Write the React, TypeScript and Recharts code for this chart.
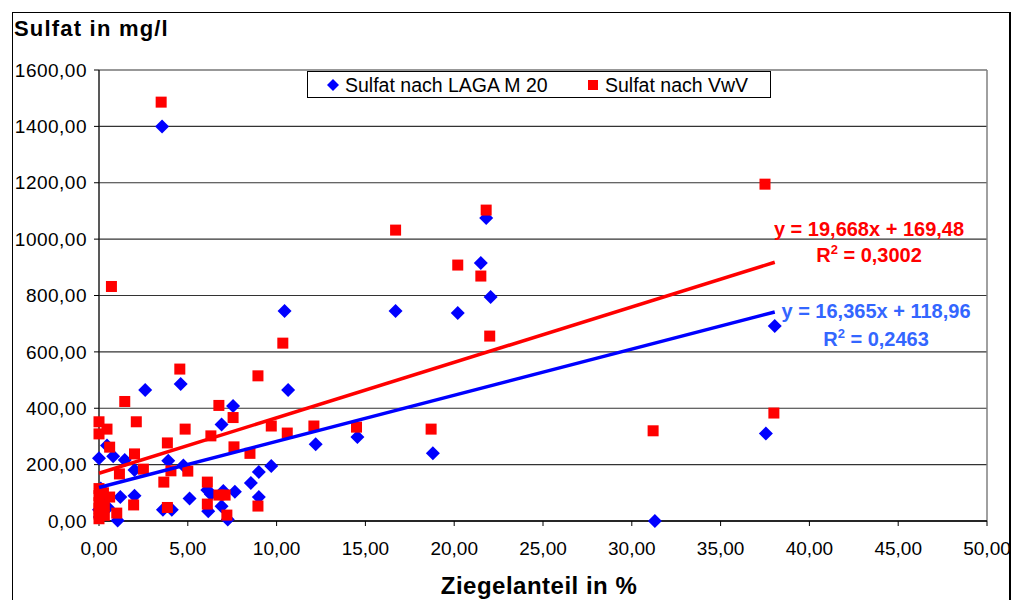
import React from 'react';
import {
  ScatterChart,
  Scatter,
  XAxis,
  YAxis,
  CartesianGrid,
  Legend,
  ReferenceLine,
  Customized,
} from 'recharts';

// Sulfat nach LAGA M 20: [Ziegelanteil %, Sulfat mg/l]
const lagaPoints: [number, number][] = [
  [3.55, 1400], [21.8, 1075], [21.5, 915], [22.05, 795], [16.7, 745], [20.2, 738],
  [10.45, 745], [38.05, 692], [10.65, 465], [2.6, 465], [4.6, 486], [7.55, 408],
  [6.9, 342], [37.55, 310], [14.55, 298], [12.2, 272], [18.8, 240], [9.7, 195],
  [9.0, 174], [8.55, 135], [9.0, 85], [7.65, 104], [6.1, 110], [6.3, 95],
  [5.1, 80], [6.9, 52], [6.15, 35], [7.25, 5], [4.75, 197], [3.9, 214],
  [2.0, 181], [1.45, 216], [0.8, 230], [0.45, 268], [0.0, 223], [1.2, 85],
  [2.0, 90], [3.6, 40], [4.1, 40], [0.5, 48], [1.05, 2], [0.05, 14],
  [31.3, 0], [7.0, 106], [0.1, 115], [0.3, 75], [0.0, 40],
];

// Sulfat nach VwV
const vwvPoints: [number, number][] = [
  [3.5, 1486], [37.5, 1195], [21.8, 1103], [16.7, 1032], [20.2, 908], [21.5, 869],
  [0.7, 832], [22.0, 656], [10.35, 631], [4.55, 539], [8.95, 515], [1.45, 424],
  [6.75, 410], [38.0, 383], [7.55, 367], [2.1, 352], [0.0, 352], [0.45, 326],
  [0.0, 309], [4.85, 326], [6.3, 302], [9.7, 337], [10.6, 312], [12.1, 337],
  [14.5, 333], [18.7, 326], [31.2, 320], [3.85, 277], [0.6, 262], [7.6, 263],
  [8.5, 240], [2.0, 238], [2.5, 184], [5.0, 177], [4.05, 178], [1.15, 167],
  [3.65, 138], [6.1, 138], [6.75, 92], [7.1, 92], [6.1, 60], [7.2, 21],
  [8.95, 53], [1.95, 57], [1.0, 28], [3.85, 48], [0.6, 85], [0.0, 115],
  [0.0, 90], [0.0, 65], [0.0, 45], [0.0, 25], [0.0, 8], [0.25, 100],
  [0.3, 55], [0.3, 20],
];

// Linear trend lines (Excel)
const lagaTrend = { slope: 16.365, intercept: 118.96, r2: '0,2463', label: 'y = 16,365x + 118,96' };
const vwvTrend = { slope: 19.668, intercept: 169.48, r2: '0,3002', label: 'y = 19,668x + 169,48' };
const trendRange = [0, 38.05];

const xTicks = [0, 5, 10, 15, 20, 25, 30, 35, 40, 45, 50];
const yTicks = [0, 200, 400, 600, 800, 1000, 1200, 1400, 1600];

const seriesNames = ['Sulfat nach LAGA M 20', 'Sulfat nach VwV'];
const titleText = 'Sulfat in mg/l';
const xTitleText = 'Ziegelanteil in %';

const BLUE = '#0000FF';
const RED = '#FF0000';
const EQ_BLUE = '#3366FF';
const FONT = '"Liberation Sans", Arial, sans-serif';

const toObjs = (pts: [number, number][]) => pts.map(([x, y]) => ({ x, y }));
const trendData = (t: { slope: number; intercept: number }) =>
  trendRange.map((x) => ({ x, y: t.slope * x + t.intercept }));

const fmt = (v: number) => v.toFixed(2).replace('.', ',');

const Diamond = (p: any) => {
  const { cx, cy } = p;
  const r = 7;
  return (
    <polygon
      points={`${cx},${cy - r} ${cx + r},${cy} ${cx},${cy + r} ${cx - r},${cy}`}
      fill={BLUE}
    />
  );
};

const Square = (p: any) => {
  const { cx, cy } = p;
  const s = 11;
  return <rect x={cx - s / 2} y={cy - s / 2} width={s} height={s} fill={RED} />;
};

const NoShape = () => <g />;

const LegendBox = () => (
  <div
    style={{
      position: 'relative',
      width: 464,
      height: 27,
      boxSizing: 'border-box',
      border: '1px solid #000',
      background: '#fff',
      fontFamily: FONT,
      fontSize: 19.5,
      color: '#000',
    }}
  >
    <svg width={14} height={14} style={{ position: 'absolute', left: 18, top: 6 }}>
      <polygon points="7,1 13,7 7,13 1,7" fill={BLUE} />
    </svg>
    <span style={{ position: 'absolute', left: 37, top: 1, lineHeight: '24px', whiteSpace: 'nowrap' }}>
      {seriesNames[0]}
    </span>
    <svg width={12} height={12} style={{ position: 'absolute', left: 279, top: 7 }}>
      <rect x={1} y={1} width={10} height={10} fill={RED} />
    </svg>
    <span style={{ position: 'absolute', left: 297, top: 1, lineHeight: '24px', whiteSpace: 'nowrap' }}>
      {seriesNames[1]}
    </span>
  </div>
);

const Overlay = () => (
  <g style={{ fontFamily: FONT }}>
    <text x={14} y={36} fontSize={22} fontWeight="bold" letterSpacing={1.2} fill="#000">
      {titleText}
    </text>
    <text x={539} y={594} fontSize={24} fontWeight="bold" letterSpacing={0.5} textAnchor="middle" fill="#000">
      {xTitleText}
    </text>
    <text x={869} y={236} fontSize={20} fontWeight="bold" textAnchor="middle" fill={RED}>
      {vwvTrend.label}
    </text>
    <text x={869} y={262} fontSize={20} fontWeight="bold" textAnchor="middle" fill={RED}>
      R<tspan fontSize={13} dy={-8}>2</tspan>
      <tspan dy={8}>{' = ' + vwvTrend.r2}</tspan>
    </text>
    <text x={876} y={318} fontSize={20} fontWeight="bold" textAnchor="middle" fill={EQ_BLUE}>
      {lagaTrend.label}
    </text>
    <text x={876} y={346} fontSize={20} fontWeight="bold" textAnchor="middle" fill={EQ_BLUE}>
      R<tspan fontSize={13} dy={-8}>2</tspan>
      <tspan dy={8}>{' = ' + lagaTrend.r2}</tspan>
    </text>
  </g>
);

export default function App() {
  return (
    <div style={{ position: 'absolute', left: 0, top: 0, width: 1015, height: 600, background: '#fff', overflow: 'hidden' }}>
      <div
        style={{
          position: 'absolute',
          left: 12,
          top: 12,
          width: 996,
          height: 620,
          borderLeft: '1px solid #000',
          borderTop: '1px solid #000',
          borderRight: '2px solid #000',
        }}
      />
      <div style={{ position: 'absolute', left: 0, top: 0 }}>
        <ScatterChart
          width={1015}
          height={600}
          margin={{ top: 70, right: 28, bottom: 0, left: 12 }}
          style={{ fontFamily: FONT }}
        >
          <CartesianGrid horizontal vertical={false} stroke="#333" strokeWidth={1.2} />
          <XAxis
            type="number"
            dataKey="x"
            domain={[0, 50]}
            ticks={xTicks}
            tickFormatter={fmt}
            height={79}
            tickSize={5}
            tickMargin={16}
            tick={{ fontSize: 19, fill: '#000', fontFamily: FONT }}
            axisLine={{ stroke: '#000', strokeWidth: 1.5 }}
            tickLine={{ stroke: '#000' }}
            interval={0}
          />
          <YAxis
            type="number"
            dataKey="y"
            domain={[0, 1600]}
            ticks={yTicks}
            tickFormatter={fmt}
            width={87}
            tickSize={5}
            tickMargin={7}
            tick={{ fontSize: 19, fill: '#000', fontFamily: FONT, letterSpacing: 0.5 }}
            axisLine={{ stroke: '#222', strokeWidth: 1.5 }}
            tickLine={{ stroke: '#000' }}
            interval={0}
          />
          <ReferenceLine x={50} stroke="#808080" strokeWidth={1.5} />
          <Legend
            layout="horizontal"
            verticalAlign="middle"
            align="center"
            wrapperStyle={{ position: 'absolute', left: 307, top: 71, width: 464, height: 27 }}
            content={() => <LegendBox />}
          />
          <Scatter name={seriesNames[0]} data={toObjs(lagaPoints)} shape={Diamond} isAnimationActive={false} />
          <Scatter name={seriesNames[1]} data={toObjs(vwvPoints)} shape={Square} isAnimationActive={false} />
          <Scatter
            data={trendData(lagaTrend)}
            shape={NoShape}
            line={{ stroke: BLUE, strokeWidth: 3.5 }}
            legendType="none"
            isAnimationActive={false}
          />
          <Scatter
            data={trendData(vwvTrend)}
            shape={NoShape}
            line={{ stroke: RED, strokeWidth: 3.5 }}
            legendType="none"
            isAnimationActive={false}
          />
          <Customized component={Overlay} />
        </ScatterChart>
      </div>
    </div>
  );
}
